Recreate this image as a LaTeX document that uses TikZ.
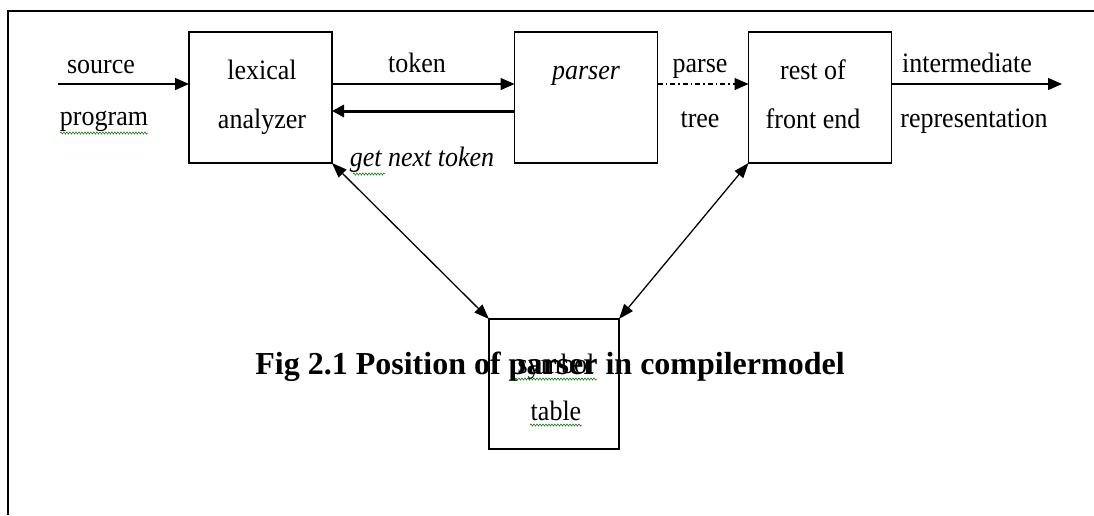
\documentclass[tikz,border=0pt]{standalone}
\usepackage{fontspec}
\setmainfont{Liberation Serif}
\usetikzlibrary{arrows.meta,decorations.pathmorphing}

\tikzset{
  stage/.style={draw, line width=1.4pt, minimum width=143pt, minimum height=131pt,
    inner sep=0pt, outer sep=0pt},
  tbl/.style={draw, line width=1.4pt, minimum width=130pt, minimum height=130pt,
    inner sep=0pt, outer sep=0pt},
  lbl/.style={font=\fontsize{26}{30}\selectfont, inner sep=0pt, anchor=base, yscale=1.08},
  flow/.style={line width=1.4pt, -{Triangle[length=14pt,width=12pt]}},
  both/.style={line width=1.3pt, {Triangle[length=15pt,width=11pt]}-{Triangle[length=15pt,width=11pt]}},
  squiggle/.style={draw=green!45!black, line width=0.5pt,
    decorate, decoration={snake, amplitude=1.1pt, segment length=3pt}},
}

\begin{document}
\begin{tikzpicture}[x=1pt, y=-1pt]
  \useasboundingbox (0,0) rectangle (1094,515);

  % page frame (top and left edges)
  \draw[line width=1.6pt] (8,515) -- (8,11) -- (1094,11);

  % processing stages
  \node[stage] (lex)  at (260.5,97.5) {};
  \node[stage] (par)  at (586,97.5) {};
  \node[stage] (rest) at (820,97.5) {};
  \node[tbl]   (sym)  at (554,384) {};

  % stage captions
  \node[lbl] (lex1)  at (262,79)  {lexical};
  \node[lbl] (lex2)  at (262,128) {analyzer};
  \node[lbl] (par1)  at (586,79)  {\itshape parser};
  \node[lbl] (rest1) at (813,79)  {rest of};
  \node[lbl] (rest2) at (813,128) {front end};
  \node[lbl] (sym1)  at (556,373) {symbol};
  \node[lbl] (sym2)  at (556,420) {table};

  % input and output points
  \coordinate (src) at (58,84);
  \coordinate (out) at (1062,84);

  % main data flow
  \draw[flow] (src) -- (src -| lex.west);
  \draw[flow] (lex.east |- src) -- (par.west |- src);
  \draw[line width=3pt, -{Triangle[length=12pt,width=12pt]}] (par.west |- 0,111) -- (lex.east |- 0,111);
  \draw[flow, dash pattern=on 5pt off 3pt on 1.5pt off 3pt] (par.east |- src) -- (rest.west |- src);
  \draw[flow] (rest.east |- out) -- (out);

  % symbol table access
  \draw[both] (lex.south east) -- (sym.north west);
  \draw[both] (rest.south west) -- (sym.north east);

  % flow labels
  \node[lbl] (t1) at (101,73)  {source};
  \node[lbl] (t2) at (104,125) {program};
  \node[lbl] (t3) at (417,72)  {token};
  \node[lbl] (t4) at (700,72)  {parse};
  \node[lbl] (t5) at (700,127) {tree};
  \node[lbl] (t6) at (967,72)  {intermediate};
  \node[lbl] (t7) at (974,127) {representation};
  \node[lbl] (t8) at (422,166) {\itshape get next token};

  % spelling marks
  \draw[squiggle] (60,133) -- (148,133);
  \draw[squiggle] (353,174) -- (385,174);
  \draw[squiggle] (512,379) -- (597,379);
  \draw[squiggle] (530,425) -- (582,425);

  % figure caption
  \node[font=\fontsize{32}{36}\selectfont\bfseries, inner sep=0pt, anchor=base] (cap)
    at (550,374) {Fig 2.1 Position of parser in compilermodel};
\end{tikzpicture}
\end{document}
